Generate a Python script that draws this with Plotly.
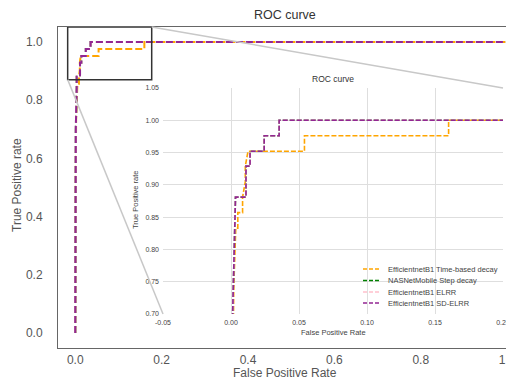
import plotly.graph_objects as go

# ---------------- data ----------------
orange_fpr = [0.0, 0.0, 0.001, 0.002, 0.0035, 0.005, 0.005, 0.0085, 0.0085, 0.0105, 0.0105, 0.0125, 0.054, 0.054, 0.16, 0.16, 1.0]
orange_tpr = [0.0, 0.024, 0.5, 0.74, 0.833, 0.833, 0.857, 0.857, 0.881, 0.905, 0.929, 0.952, 0.952, 0.976, 0.976, 1.0, 1.0]

purple_fpr = [0.0, 0.0, 0.0012, 0.0033, 0.0033, 0.011, 0.011, 0.014, 0.014, 0.0244, 0.0244, 0.0354, 0.0354, 1.0]
purple_tpr = [0.0, 0.024, 0.70, 0.848, 0.881, 0.881, 0.929, 0.929, 0.952, 0.952, 0.976, 0.976, 1.0, 1.0]

green_fpr, green_tpr = purple_fpr, purple_tpr
pink_fpr, pink_tpr = purple_fpr, purple_tpr

names = ["EfficientnetB1 Time-based decay", "NASNetMobile Step decay",
         "EfficientnetB1 ELRR", "EfficientnetB1 SD-ELRR"]
colors = ["#FFA500", "#008000", "#FFC0CB", "#932693"]
series = [(orange_fpr, orange_tpr), (green_fpr, green_tpr),
          (pink_fpr, pink_tpr), (purple_fpr, purple_tpr)]

main_xticks = [0.0, 0.2, 0.4, 0.6, 0.8, 1.0]
main_yticks = [0.0, 0.2, 0.4, 0.6, 0.8, 1.0]
ins_xticks = [-0.05, 0.0, 0.05, 0.10, 0.15, 0.20]
ins_yticks = [0.70, 0.75, 0.80, 0.85, 0.90, 0.95, 1.00, 1.05]

# zoom rectangle (main data coords)
rect_x = [-0.0176, 0.177]
rect_y = [0.871, 1.052]

# ---------------- layout geometry ----------------
OFF = 8  # page body margin
W, H = 514 - OFF, 381 - OFF
ML, MR, MT, MB = 58 - OFF, 0, 27 - OFF, 33
PW, PH = W - ML - MR, H - MT - MB
main_xr = [-0.040, 1.016]
main_yr = [-0.052, 1.052]
ins_dx = [0.2303, 0.9759]
ins_dy = [0.1059, 0.810]


def px(x):
    return (x - main_xr[0]) / (main_xr[1] - main_xr[0])


def py(y):
    return (y - main_yr[0]) / (main_yr[1] - main_yr[0])


def ppx(pix):
    return (pix - OFF - ML) / PW


def ppy(pix):
    return (H - MB - (pix - OFF)) / PH


fig = go.Figure()
FONT = "Liberation Sans, Arial, sans-serif"

for (fx, fy), c, n in zip(series, colors, names):
    fig.add_trace(go.Scatter(x=fx, y=fy, mode="lines", name=n, showlegend=False,
                             line=dict(color=c, width=2, dash="7px,3px"),
                             xaxis="x", yaxis="y"))
for (fx, fy), c, n in zip(series, colors, names):
    fig.add_trace(go.Scatter(x=fx, y=fy, mode="lines", name=n, showlegend=False,
                             line=dict(color=c, width=1.6, dash="5px,2px"),
                             xaxis="x2", yaxis="y2"))

shapes = [
    dict(type="rect", xref="x", yref="y", x0=rect_x[0], x1=rect_x[1],
         y0=rect_y[0], y1=rect_y[1], line=dict(color="#333", width=1.5)),
    dict(type="line", xref="paper", yref="paper", x0=px(rect_x[0]), y0=py(rect_y[0]),
         x1=ins_dx[0], y1=ins_dy[0], line=dict(color="#c8c8c8", width=1.5)),
    dict(type="line", xref="paper", yref="paper", x0=px(rect_x[1]), y0=py(rect_y[1]),
         x1=ins_dx[1], y1=ins_dy[1], line=dict(color="#c8c8c8", width=1.5)),
]

annotations = [
    dict(text="ROC curve", xref="paper", yref="paper", x=ppx(285), y=ppy(15),
         showarrow=False, yanchor="middle", font=dict(size=12.5, color="#333", family=FONT)),
    dict(text="False Positive Rate", xref="paper", yref="paper", x=ppx(285), y=ppy(373),
         showarrow=False, yanchor="middle", font=dict(size=12, color="#555", family=FONT)),
    dict(text="True Positive rate", xref="paper", yref="paper", x=ppx(17), y=ppy(185),
         showarrow=False, textangle=-90, xanchor="center", yanchor="middle",
         font=dict(size=12, color="#555", family=FONT)),
    dict(text="ROC curve", xref="paper", yref="paper", x=ppx(333), y=ppy(79),
         showarrow=False, yanchor="middle", font=dict(size=8.5, color="#333", family=FONT)),
    dict(text="False Positive Rate", xref="paper", yref="paper", x=ppx(333), y=ppy(332),
         showarrow=False, yanchor="middle", font=dict(size=7.5, color="#444", family=FONT)),
    dict(text="True Positive rate", xref="paper", yref="paper", x=ppx(136), y=ppy(200),
         showarrow=False, textangle=-90, xanchor="center", yanchor="middle",
         font=dict(size=7.5, color="#444", family=FONT)),
]

# manual legend inside inset
leg_x0, leg_x1, leg_tx = 363, 380, 386
leg_ys = [269, 280.5, 292, 303]
for n, c, yy in zip(names, colors, leg_ys):
    yp = ppy(yy)
    shapes.append(dict(type="line", xref="paper", yref="paper",
                       x0=ppx(leg_x0), x1=ppx(leg_x1),
                       y0=yp, y1=yp, line=dict(color=c, width=1.6, dash="4px,2px")))
    annotations.append(dict(text=n, xref="paper", yref="paper",
                            x=ppx(leg_tx), y=yp, xanchor="left",
                            yanchor="middle", showarrow=False,
                            font=dict(size=7.5, color="#444", family=FONT)))

fig.update_layout(
    width=W, height=H,
    margin=dict(l=ML, r=MR, t=MT, b=MB, autoexpand=False),
    paper_bgcolor="white", plot_bgcolor="white",
    font=dict(family=FONT, color="#555"),
    showlegend=False,
    shapes=shapes, annotations=annotations,
    xaxis=dict(range=main_xr, tickvals=main_xticks, ticktext=[f"{v:.1f}" for v in main_xticks],
               showgrid=False, zeroline=False, showline=True, mirror=True, automargin=False,
               linecolor="#666", linewidth=1, ticks="", ticklabelstandoff=1,
               ticklabeloverflow="allow", tickfont=dict(size=12, color="#555")),
    yaxis=dict(range=main_yr, tickvals=main_yticks, ticktext=[f"{v:.1f}" for v in main_yticks],
               showgrid=False, zeroline=False, showline=True, mirror=False, automargin=False,
               linecolor="#666", linewidth=1, ticks="", ticklabelstandoff=12,
               ticklabeloverflow="allow", tickfont=dict(size=12, color="#555")),
    xaxis2=dict(domain=ins_dx, anchor="y2", range=[-0.05, 0.20], tickvals=ins_xticks,
                ticktext=[f"{v:.2f}" for v in ins_xticks], automargin=False,
                showgrid=True, gridcolor="#dedede", gridwidth=1, zeroline=False,
                showline=False, ticks="", ticklabelstandoff=3, ticklabeloverflow="allow",
                tickfont=dict(size=7, color="#444")),
    yaxis2=dict(domain=ins_dy, anchor="x2", range=[0.70, 1.05], tickvals=ins_yticks,
                ticktext=[f"{v:.2f}" for v in ins_yticks], automargin=False,
                showgrid=True, gridcolor="#dedede", gridwidth=1, zeroline=False,
                showline=False, ticks="", ticklabelstandoff=3, ticklabeloverflow="allow",
                tickfont=dict(size=7, color="#444")),
)

fig.write_html("out.html")
